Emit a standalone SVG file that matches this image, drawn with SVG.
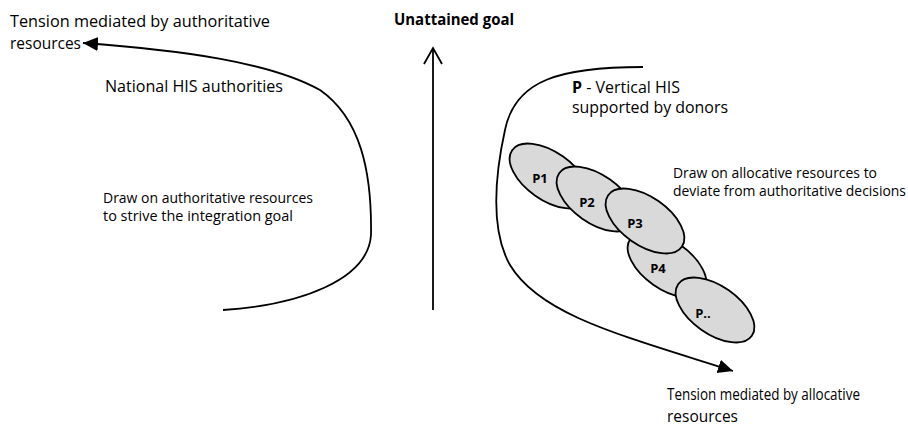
<svg xmlns="http://www.w3.org/2000/svg" width="908" height="427" viewBox="0 0 908 427">
<style>
text{font-family:"Open Sans","Liberation Sans",sans-serif;fill:#000}
.big{font-size:16px}
.mid{font-size:14px}
.b{font-weight:bold}
.lbl{font-size:13px;font-weight:bold;text-anchor:middle}
.conn{fill:none;stroke:#000;stroke-width:1.8}
.ell{fill:#d9d9d9;stroke:#000;stroke-width:1.8}
</style>
<defs>
<marker id="tri" markerUnits="userSpaceOnUse" markerWidth="18" markerHeight="16" refX="15" refY="7" orient="auto-start-reverse">
<path d="M0,0 L15,7 L0,14 Z" fill="#000"/>
</marker>
<marker id="vee" markerUnits="userSpaceOnUse" markerWidth="22" markerHeight="22" refX="17" refY="10" orient="auto">
<path d="M1,1 L17,10 L1,19" fill="none" stroke="#000" stroke-width="1.8"/>
</marker>
</defs>
<g id="connectors">
<path class="conn" d="M83,43 C180,50 270,62 320,90 C360,118 372,170 371,235 C368,280 300,305 223,310" marker-start="url(#tri)"/>
<path class="conn" d="M643,67 C560,67 515,80 505,130 C495,175 490,230 510,265 C540,315 620,335 733,371" marker-end="url(#tri)"/>
<line class="conn" x1="433" y1="310" x2="433" y2="48" marker-end="url(#vee)"/>
</g>
<g id="label-tension-authoritative">
<text class="big" x="10" y="27" textLength="260" lengthAdjust="spacingAndGlyphs">Tension mediated by authoritative</text>
<text class="big" x="10" y="49" textLength="71" lengthAdjust="spacingAndGlyphs">resources</text>
</g>
<g id="node-national">
<text class="big" x="105" y="92" textLength="178" lengthAdjust="spacingAndGlyphs">National HIS authorities</text>
<text class="mid" x="103" y="203" textLength="210" lengthAdjust="spacingAndGlyphs">Draw on authoritative resources</text>
<text class="mid" x="103" y="221" textLength="190" lengthAdjust="spacingAndGlyphs">to strive the integration goal</text>
</g>
<g id="label-goal">
<text class="big b" x="394" y="25" textLength="120" lengthAdjust="spacingAndGlyphs">Unattained goal</text>
</g>
<g id="node-vertical">
<text class="big" x="572" y="93" textLength="108" lengthAdjust="spacingAndGlyphs"><tspan font-weight="bold">P</tspan> - Vertical HIS</text>
<text class="big" x="572" y="113" textLength="156" lengthAdjust="spacingAndGlyphs">supported by donors</text>
<text class="mid" x="673" y="178" textLength="204" lengthAdjust="spacingAndGlyphs">Draw on allocative resources to</text>
<text class="mid" x="673" y="196" textLength="233" lengthAdjust="spacingAndGlyphs">deviate from authoritative decisions</text>
</g>
<g id="node-P1">
<ellipse class="ell" cx="549" cy="176" rx="45" ry="24" transform="rotate(35 549 176)"/>
<text class="lbl" x="540" y="183">P1</text>
</g>
<g id="node-P2">
<ellipse class="ell" cx="596" cy="199" rx="45" ry="24" transform="rotate(35 596 199)"/>
<text class="lbl" x="587" y="207">P2</text>
</g>
<g id="node-P4">
<ellipse class="ell" cx="667" cy="265" rx="45" ry="24" transform="rotate(35 667 265)"/>
<text class="lbl" x="658" y="273">P4</text>
</g>
<g id="node-P3">
<ellipse class="ell" cx="645" cy="221" rx="45" ry="24" transform="rotate(35 645 221)"/>
<text class="lbl" x="635" y="228">P3</text>
</g>
<g id="node-Pn">
<ellipse class="ell" cx="715" cy="310" rx="45" ry="24" transform="rotate(35 715 310)"/>
<text class="lbl" x="703" y="318">P..</text>
</g>
<g id="label-tension-allocative">
<text class="big" x="667" y="400" textLength="193" lengthAdjust="spacingAndGlyphs">Tension mediated by allocative</text>
<text class="big" x="667" y="422" textLength="71" lengthAdjust="spacingAndGlyphs">resources</text>
</g>
</svg>
